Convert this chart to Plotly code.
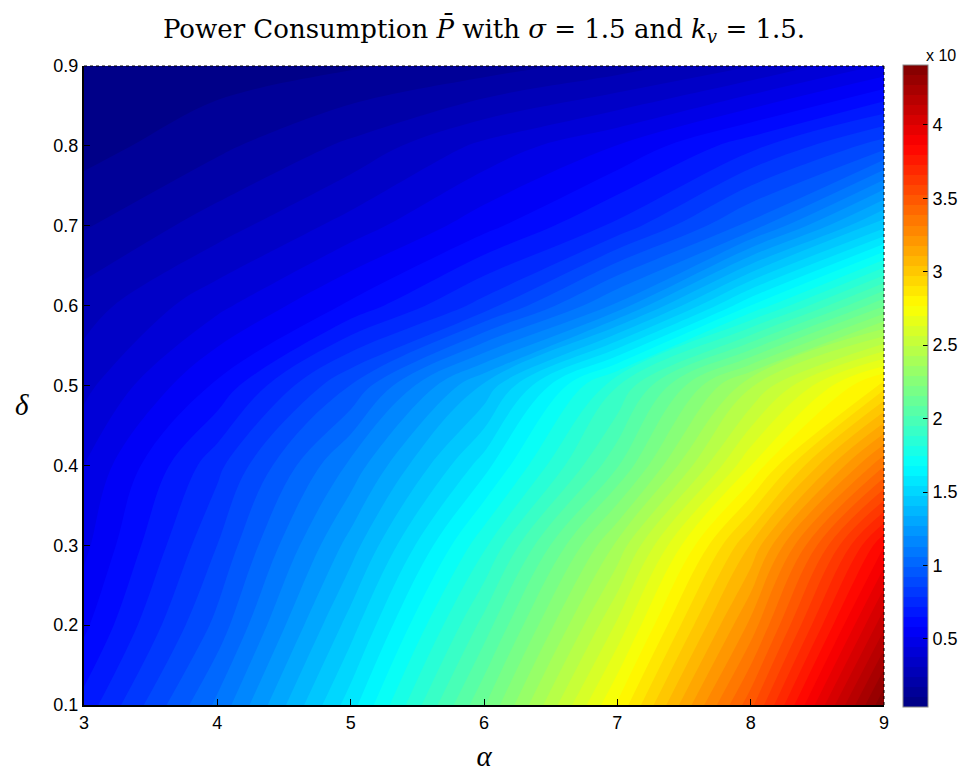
import plotly.graph_objects as go

alpha = [3, 4, 5, 6, 7, 8, 9]
delta = [0.1, 0.2, 0.3, 0.4, 0.5, 0.6, 0.7, 0.8, 0.9]

# Power consumption (x 10^4), rows follow delta, columns follow alpha
p_d01 = [0.68, 1.08, 1.58, 2.15, 2.78, 3.50, 4.40]
p_d02 = [0.57, 0.95, 1.44, 1.98, 2.58, 3.27, 4.12]
p_d03 = [0.50, 0.86, 1.30, 1.80, 2.38, 3.05, 3.86]
p_d04 = [0.45, 0.77, 1.15, 1.58, 2.08, 2.70, 3.38]
p_d05 = [0.36, 0.60, 0.93, 1.35, 1.88, 2.42, 2.88]
p_d06 = [0.28, 0.43, 0.60, 0.82, 1.15, 1.68, 2.15]
p_d07 = [0.17, 0.28, 0.41, 0.56, 0.74, 1.02, 1.45]
p_d08 = [0.08, 0.16, 0.26, 0.40, 0.52, 0.70, 0.90]
p_d09 = [0.04, 0.07, 0.10, 0.14, 0.21, 0.31, 0.46]

x_ticks = [3, 4, 5, 6, 7, 8, 9]
y_ticks = [0.1, 0.2, 0.3, 0.4, 0.5, 0.6, 0.7, 0.8, 0.9]
cb_ticks = [0.5, 1, 1.5, 2, 2.5, 3, 3.5, 4]
cb_labels = ["0.5", "1", "1.5", "2", "2.5", "3", "3.5", "4"]

z = [p_d01, p_d02, p_d03, p_d04, p_d05, p_d06, p_d07, p_d08, p_d09]
zmin, zmax = 0.04, 4.41

jet = [
    [0.0, "rgb(0,0,128)"],
    [0.125, "rgb(0,0,255)"],
    [0.375, "rgb(0,255,255)"],
    [0.625, "rgb(255,255,0)"],
    [0.875, "rgb(255,0,0)"],
    [1.0, "rgb(128,0,0)"],
]

tick_font = dict(family="Liberation Sans, Arial", size=18, color="black")

fig = go.Figure()
fig.add_trace(go.Contour(
    x=alpha, y=delta, z=z,
    colorscale=jet, zmin=zmin, zmax=zmax,
    contours=dict(start=zmin, end=zmax, size=(zmax - zmin) / 64, coloring="fill", showlines=False),
    line=dict(width=0),
    colorbar=dict(
        x=1.024, xanchor="left", xpad=0, y=0.5, yanchor="middle",
        len=1.005, lenmode="fraction", thickness=25, ypad=0,
        tickvals=cb_ticks, ticktext=cb_labels,
        ticks="inside", ticklen=5, tickcolor="black",
        tickfont=tick_font,
        outlinewidth=1, outlinecolor="#888888",
    ),
    hoverinfo="skip",
))

fig.update_layout(
    width=967, height=778,
    margin=dict(l=84, r=83, t=66, b=73, autoexpand=False),
    paper_bgcolor="white", plot_bgcolor="white",
    title=dict(
        text="Power Consumption <i>P̄</i> with <i>σ</i> = 1.5 and <i>k<sub>v</sub></i> = 1.5.",
        x=0.5, xref="paper", xanchor="center", y=0.963, yanchor="middle",
        font=dict(family="DejaVu Serif, Liberation Serif, serif", size=26, color="black"),
    ),
    showlegend=False,
)
fig.update_xaxes(
    range=[3, 9], tickvals=x_ticks, ticks="inside", ticklen=6, tickcolor="black",
    showline=True, linecolor="black", linewidth=2, showgrid=False, zeroline=False,
    tickfont=tick_font,
    title=dict(text="<i>α</i>", font=dict(family="Liberation Serif, serif", size=29, color="black"), standoff=14),
)
fig.update_yaxes(
    range=[0.1, 0.9], tickvals=y_ticks, ticks="inside", ticklen=6, tickcolor="black",
    showline=True, linecolor="black", linewidth=2, showgrid=False, zeroline=False,
    tickfont=tick_font,
)
fig.add_annotation(text="<i>δ</i>", xref="paper", yref="paper", x=-0.078, y=0.47,
                   xanchor="center", yanchor="middle", showarrow=False,
                   font=dict(family="Liberation Serif, serif", size=29, color="black"))
# dotted top/right frame
fig.add_shape(type="line", xref="paper", yref="paper", x0=0, x1=1, y0=1, y1=1,
              line=dict(color="black", width=1, dash="dot"))
fig.add_shape(type="line", xref="paper", yref="paper", x0=1, x1=1, y0=0, y1=1,
              line=dict(color="black", width=1, dash="dot"))
fig.add_annotation(text="x 10", xref="paper", yref="paper", x=1.071, y=1.0, xanchor="center",
                   yanchor="bottom", showarrow=False,
                   font=dict(family="Liberation Sans, Arial", size=16, color="black"))

fig.write_html("out.html")
